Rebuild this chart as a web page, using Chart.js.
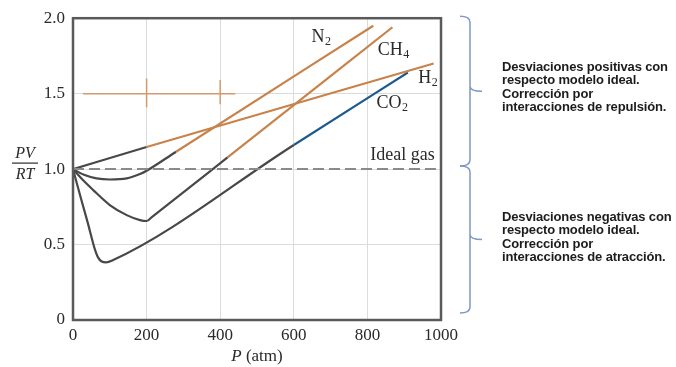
<!DOCTYPE html>
<html>
<head>
<meta charset="utf-8">
<script src="https://cdn.jsdelivr.net/npm/chart.js@4.4.0/dist/chart.umd.min.js"></script>
<style>
  body { margin: 0; background: #fff; }
  #wrap { position: relative; width: 676px; height: 367px; }
  .note {
    position: absolute; left: 502px;
    font-family: 'Liberation Sans', Arial, sans-serif; font-weight: bold;
    font-size: 13px; line-height: 13.3px; color: #1c1c1c; letter-spacing: -0.15px;
  }
</style>
</head>
<body>
<div id="wrap">
  <canvas id="chart"></canvas>
  <div class="note" style="top:60px">Desviaciones positivas con<br>respecto modelo ideal.<br>Corrección por<br>interacciones de repulsión.</div>
  <div class="note" style="top:210px">Desviaciones negativas con<br>respecto modelo ideal.<br>Corrección por<br>interacciones de atracción.</div>
</div>
<script>
// --- Data (P in atm, PV/RT) ---
const xTicks = [0, 200, 400, 600, 800, 1000];
const xTickLabels = ['0', '200', '400', '600', '800', '1000'];
const yTicks = [0, 0.5, 1.0, 1.5, 2.0];
const yTickLabels = ['0', '0.5', '1.0', '1.5', '2.0'];

const n2P = [0, 30, 64, 100, 146, 182, 200, 280, 816];
const n2Z = [1.0, 0.962, 0.938, 0.931, 0.938, 0.967, 0.989, 1.115, 1.95];

const ch4P = [0, 25, 55, 100, 146, 182, 200, 215, 420, 868];
const ch4Z = [1.0, 0.932, 0.861, 0.762, 0.695, 0.662, 0.656, 0.684, 1.077, 1.94];

const h2P = [0, 200, 980];
const h2Z = [1.0, 1.146, 1.70];

const co2P = [0, 20, 40, 58, 68, 78, 90, 105, 600, 910];
const co2Z = [1.0, 0.82, 0.645, 0.48, 0.415, 0.388, 0.382, 0.392, 1.16, 1.64];

const idealP = [0, 1000];
const idealZ = [1.0, 1.0];

// leftover orange marks around the 1.5 gridline
const markP = [27, 441];
const markZ = [1.5, 1.5];
const tick200Z = [1.41, 1.60];
const tick400Z = [1.43, 1.59];

// pressure where each curve turns from gray to colour
const switchAt = { n2: 280, ch4: 420, h2: 200, co2: 600 };

const GRAY = '#484848';
const ORANGE = '#c8834b';
const BLUE = '#1d5b8e';
const SERIF = '"Liberation Serif", serif';

const pts = (p, z) => p.map((v, i) => ({ x: v, y: z[i] }));

function curve(p, z, from, color) {
    return {
        data: pts(p, z),
        borderColor: GRAY,
        borderWidth: 2.2,
        pointRadius: 0,
        cubicInterpolationMode: 'monotone',
        segment: {
            borderColor: ctx => ctx.p0.parsed.x >= from ? color : GRAY
        }
    };
}

function drawSub(ctx, base, sub, x, y) {
    ctx.font = '18px ' + SERIF;
    ctx.fillText(base, x, y);
    const w = ctx.measureText(base).width;
    ctx.font = '12px ' + SERIF;
    ctx.fillText(sub, x + w + 0.5, y + 5);
}

const decorations = {
    id: 'decorations',
    afterDraw(chart) {
        const { ctx, chartArea: a, scales } = chart;
        const X = v => scales.x.getPixelForValue(v);
        const Y = v => scales.y.getPixelForValue(v);
        ctx.save();

        // frame
        ctx.strokeStyle = '#5a5a5a';
        ctx.lineWidth = 2.5;
        ctx.strokeRect(a.left, a.top, a.right - a.left, a.bottom - a.top);

        // curve labels
        ctx.fillStyle = '#2a2a2a';
        ctx.textBaseline = 'middle';
        ctx.textAlign = 'left';
        drawSub(ctx, 'N', '2', X(648), Y(1.874));
        drawSub(ctx, 'CH', '4', X(828), Y(1.788));
        drawSub(ctx, 'H', '2', X(938), Y(1.603));
        drawSub(ctx, 'CO', '2', X(825), Y(1.437));
        ctx.font = '18px ' + SERIF;
        ctx.textAlign = 'right';
        ctx.fillText('Ideal gas', X(983), Y(1.093));

        // y title PV/RT
        const cx = a.left - 48;
        ctx.textAlign = 'center';
        ctx.font = 'italic 16px ' + SERIF;
        ctx.fillText('PV', cx, Y(1.0) - 15);
        ctx.fillText('RT', cx, Y(1.0) + 6);
        ctx.strokeStyle = '#2a2a2a';
        ctx.lineWidth = 1.2;
        ctx.beginPath();
        ctx.moveTo(cx - 13, Y(1.0) - 6);
        ctx.lineTo(cx + 13, Y(1.0) - 6);
        ctx.stroke();

        // x title P (atm)
        const mx = (a.left + a.right) / 2;
        ctx.font = 'italic 17px ' + SERIF;
        const wp = ctx.measureText('P ').width;
        ctx.font = '17px ' + SERIF;
        const wa = ctx.measureText('(atm)').width;
        const sx = mx - (wp + wa) / 2;
        ctx.textAlign = 'left';
        ctx.font = 'italic 17px ' + SERIF;
        ctx.fillText('P', sx, a.bottom + 37);
        ctx.font = '17px ' + SERIF;
        ctx.fillText('(atm)', sx + wp, a.bottom + 37);

        // braces
        const bx = a.right + 29;
        const mid = Y(1.0) - 3;
        const brace = (t, b) => {
            const m = (t + b) / 2;
            ctx.beginPath();
            ctx.moveTo(bx - 10, t);
            ctx.quadraticCurveTo(bx, t, bx, t + 6);
            ctx.lineTo(bx, m - 5);
            ctx.quadraticCurveTo(bx, m, bx + 12, m);
            ctx.moveTo(bx, m - 5);
            ctx.quadraticCurveTo(bx, m, bx, m + 5);
            ctx.lineTo(bx, b - 6);
            ctx.quadraticCurveTo(bx, b, bx - 10, b);
            ctx.stroke();
        };
        ctx.strokeStyle = '#7f98c4';
        ctx.lineWidth = 1.5;
        brace(a.top - 2, mid);
        brace(mid, a.bottom - 7);
        ctx.restore();
    }
};

const datasets = [
    { data: pts(idealP, idealZ), borderColor: '#8a8a8a', borderWidth: 2, borderDash: [11, 5], pointRadius: 0 },
    { data: pts(markP, markZ), borderColor: '#d29a6c', borderWidth: 1.5, pointRadius: 0 },
    { data: pts([200, 200], tick200Z), borderColor: '#d29a6c', borderWidth: 1.5, pointRadius: 0 },
    { data: pts([400, 400], tick400Z), borderColor: '#d29a6c', borderWidth: 1.5, pointRadius: 0 },
    curve(h2P, h2Z, switchAt.h2, ORANGE),
    curve(n2P, n2Z, switchAt.n2, ORANGE),
    curve(ch4P, ch4Z, switchAt.ch4, ORANGE),
    curve(co2P, co2Z, switchAt.co2, BLUE)
];

new Chart(document.getElementById('chart'), {
    type: 'line',
    data: { datasets: datasets },
    options: {
        responsive: true,
        maintainAspectRatio: false,
        animation: false,
        layout: { padding: { left: 0, top: 17, right: 235, bottom: 0 } },
        plugins: { legend: { display: false }, tooltip: { enabled: false } },
        scales: {
            x: {
                type: 'linear', min: 0, max: 1000,
                afterBuildTicks: s => { s.ticks = xTicks.map(v => ({ value: v })); },
                afterFit: s => { s.height = 47; },
                ticks: { color: '#2a2a2a', padding: 5, maxRotation: 0,
                         font: { family: SERIF, size: 17 },
                         callback: v => xTickLabels[xTicks.indexOf(v)] },
                grid: { color: '#dcdcdc', lineWidth: 1, drawTicks: false },
                border: { display: false }
            },
            y: {
                min: 0, max: 2,
                afterBuildTicks: s => { s.ticks = yTicks.map(v => ({ value: v })); },
                afterFit: s => { s.width = 73; },
                ticks: { color: '#2a2a2a', padding: 8,
                         font: { family: SERIF, size: 17 },
                         callback: v => yTickLabels[yTicks.indexOf(v)] },
                grid: { color: '#dcdcdc', lineWidth: 1, drawTicks: false },
                border: { display: false }
            }
        }
    },
    plugins: [decorations]
});
</script>
</body>
</html>
